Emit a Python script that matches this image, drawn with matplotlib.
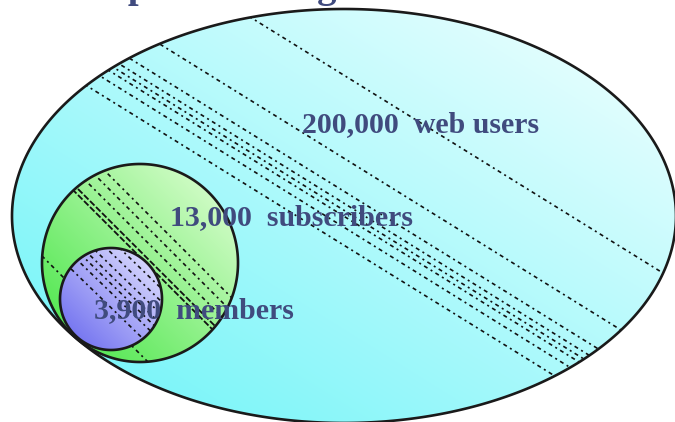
import numpy as np
import matplotlib
matplotlib.use("Agg")
import matplotlib.pyplot as plt
from matplotlib.patches import PathPatch
from matplotlib.path import Path

# ---------------- data ----------------
groups = ["web users", "subscribers", "members"]
counts = [200000, 13000, 3900]
title_text = "Group Marketing"

# ---------------- layout (pixel coords, y grows downward) ----------------
W, H = 675, 422
# ellipse / circles: centre x, centre y, half-width, half-height
shape_geom = [(344, 216, 332, 207), (140, 263, 98, 99), (111, 299, 51, 51)]
label_pos = [(421, 125), (292, 218), (194, 311)]
# gradient colours (bottom-left, top-right)
grad_cols = [("#6af4f8", "#f4ffff"), ("#3fe43f", "#e6ffda"), ("#6464ee", "#e8e8ff")]
# decorative dotted hatch lines: slope, intercepts and dense flags per shape
hatch_slope = [0.62, 1.0, 0.97]
hatch_icpt = [[-138, -55, -22, -10, -3, 3, 14, 32],
              [66, 80, 95, 111, 117, 214],
              [132, 145, 158, 168, 176, 185, 200]]
hatch_dense = [[], [111, 117], []]
text_col = "#404b7e"

fig = plt.figure(figsize=(6.75, 4.22), dpi=100)
ax = fig.add_axes([0, 0, 1, 1])
ax.set_xlim(0, W)
ax.set_ylim(H, 0)
ax.axis("off")


def ellipse_path(cx, cy, a, b, n=600):
    t = np.linspace(0, 2 * np.pi, n)
    verts = np.column_stack([cx + a * np.cos(t), cy - b * np.sin(t)])
    return Path(verts, closed=True)


def gradient_shape(geom, cols, z):
    cx, cy, a, b = geom
    path = ellipse_path(cx, cy, a, b)
    x0, x1, y0, y1 = cx - a, cx + a, cy - b, cy + b
    n = 256
    X, Y = np.meshgrid(np.linspace(0, 1, n), np.linspace(0, 1, n))
    f = np.clip((X + (1 - Y)) / 2, 0, 1)[..., None]
    c0 = np.array(matplotlib.colors.to_rgb(cols[0]))
    c1 = np.array(matplotlib.colors.to_rgb(cols[1]))
    img = c0 + (c1 - c0) * f
    im = ax.imshow(img, extent=(x0, x1, y1, y0), origin="upper", zorder=z,
                   interpolation="bilinear", aspect="auto")
    clip = PathPatch(path, fc="none", ec="none", zorder=z)
    ax.add_patch(clip)
    im.set_clip_path(clip)
    edge = PathPatch(path, fc="none", ec="#1a1a1a", lw=1.9, zorder=z + 0.6)
    ax.add_patch(edge)
    return clip


for i, (geom, cols) in enumerate(zip(shape_geom, grad_cols)):
    z = 1 + 2 * i
    clip = gradient_shape(geom, cols, z)
    xs = np.array([0, W])
    for c in hatch_icpt[i]:
        dense = c in hatch_dense[i]
        ls = (0, (3.5, 1.2)) if dense else (0, (1.2, 2.2, 2.4, 2.2))
        ln, = ax.plot(xs, c + hatch_slope[i] * xs, color="#111111",
                      lw=1.3 if dense else 1.2, ls=ls, zorder=z + 0.3)
        ln.set_clip_path(clip)

ax.set_xlim(0, W)
ax.set_ylim(H, 0)

for (g, n), (x, y) in zip(zip(groups, counts), label_pos):
    ax.text(x, y, f"{n:,}  {g}", ha="center", va="center", fontsize=21.5,
            fontweight="bold", family="Liberation Serif", color=text_col, zorder=10)

# title, mostly above the visible area (only descenders show)
ax.text(40, -3, title_text, ha="left", va="baseline", fontsize=28,
        fontweight="bold", family="Liberation Serif", color=text_col, zorder=10)

fig.savefig("out.png", dpi=100)
